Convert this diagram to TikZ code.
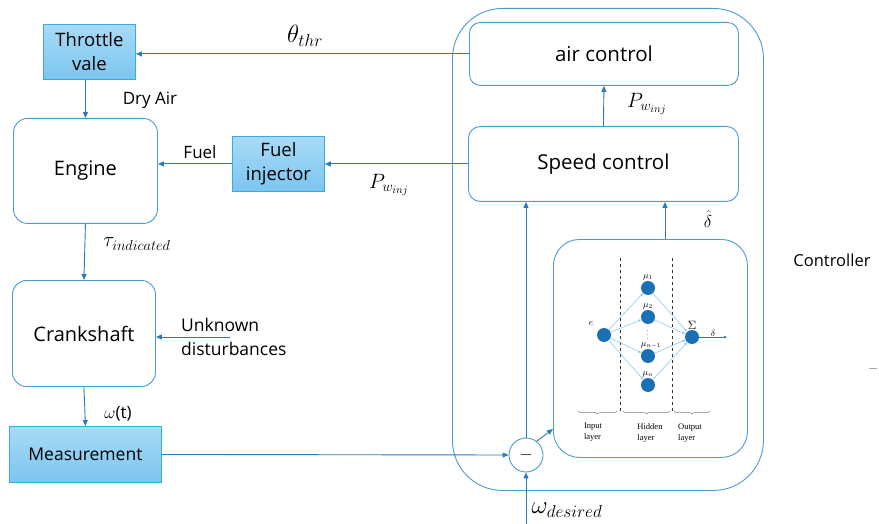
\documentclass[tikz,border=0pt]{standalone}
\usepackage{fontspec}
\setmainfont{Open Sans}
\newfontfamily\nnfont{Liberation Serif}
\usetikzlibrary{arrows.meta,decorations.pathreplacing}
\definecolor{edgec}{HTML}{4A9BD1}
\definecolor{arrc}{HTML}{2B7BBA}
\definecolor{nnode}{HTML}{1B6FB5}
\definecolor{nnedge}{HTML}{8CCBEB}
\definecolor{boxtop}{HTML}{A8DAF6}
\definecolor{boxbot}{HTML}{7CC5EE}
\definecolor{boxdraw}{HTML}{36ACDF}
\tikzset{
  blk/.style={draw=edgec, line width=0.9pt, rounded corners=14pt, inner sep=0pt, anchor=north west, align=center},
  bluebox/.style={draw=boxdraw, line width=0.9pt, top color=boxtop, bottom color=boxbot, inner sep=0pt, anchor=north west, align=center},
  flow/.style={draw=arrc, line width=0.9pt, -{Triangle[length=6pt,width=5pt]}},
  nnflow/.style={draw=nnedge, line width=0.6pt, -{Triangle[length=3pt,width=2.4pt]}},
  neuron/.style={circle, fill=nnode, minimum size=14pt, inner sep=0pt},
  lbl/.style={inner sep=0pt},
  nnlbl/.style={inner sep=0pt, font=\nnfont\fontsize{8.5}{10.5}\selectfont, align=left},
}
\begin{document}
\begin{tikzpicture}[x=1pt,y=-1pt]
\useasboundingbox (0,0) rectangle (879,524);
% left plant blocks
\node[bluebox, minimum width=92pt, minimum height=55pt, font=\fontsize{18.5}{24}\selectfont] (thr) at (43,24) {Throttle\\vale};
\node[blk, minimum width=144pt, minimum height=105pt, font=\fontsize{20}{24}\selectfont] (eng) at (13,118) {Engine};
\node[bluebox, minimum width=92pt, minimum height=55pt, font=\fontsize{18.5}{24}\selectfont] (fi) at (232,136) {Fuel\\injector};
\node[blk, minimum width=143pt, minimum height=106pt, font=\fontsize{20}{24}\selectfont] (cr) at (12,280) {Crankshaft};
\node[bluebox, minimum width=152pt, minimum height=56pt, font=\fontsize{17.5}{22}\selectfont] (me) at (9,426) {Measurement};
% controller
\node[blk, rounded corners=50pt, minimum width=311pt, minimum height=482pt] (ctl) at (452,8) {};
\node[blk, rounded corners=11pt, minimum width=269pt, minimum height=63pt, font=\fontsize{20.5}{24}\selectfont] (air) at (469,22) {air control};
\node[blk, rounded corners=12pt, minimum width=270pt, minimum height=75pt, font=\fontsize{20.5}{24}\selectfont] (sp) at (468,126) {Speed control};
\node[blk, rounded corners=26pt, minimum width=194pt, minimum height=218pt] (nn) at (553,239) {};
\node[circle, draw=edgec, line width=0.9pt, minimum size=34pt, inner sep=0pt, font=\fontsize{16}{18}\selectfont] (mn) at (526,455) {$-$};
\node[lbl, font=\fontsize{16.5}{20}\selectfont] (ctlt) at (832,260) {Controller};
\draw[gray!70, line width=1pt] (869,368) -- (877,368);
% coordinates
\coordinate (dist) at (230,337);
\coordinate (wd) at (526,524);
\coordinate (nnin) at (553,429);
\coordinate (nnout) at (665,239);
% connectors
\draw[flow] (air.west) -- (air.west -| thr.east);
\draw[flow] (thr.south -| eng.north) -- (eng.north);
\draw[flow] (sp.west) -- (sp.west -| fi.east);
\draw[flow] (fi.west) -- (fi.west -| eng.east);
\draw[flow] (eng.south) -- (cr.north);
\draw[flow] (dist) -- (dist -| cr.east);
\draw[flow] (cr.south) -- (me.north);
\draw[flow] (me.east) -- (mn.west);
\draw[flow] (wd) -- (mn.south);
\draw[flow] (mn.north) -- (mn.north |- sp.south);
\draw[flow] (mn.52) -- (nnin);
\draw[flow] (nnout) -- (nnout |- sp.south);
\draw[flow] (sp.north) -- (air.south);
% labels
\node[lbl, font=\fontsize{23}{26}\selectfont] (lth) at (305,36) {$\theta_{thr}$};
\node[lbl, font=\fontsize{17}{20}\selectfont] (lda) at (150,100) {Dry Air};
\node[lbl, font=\fontsize{17}{20}\selectfont] (lfu) at (200,152) {Fuel};
\node[lbl, font=\fontsize{21}{24}\selectfont] (lpw1) at (389,185) {$P_{w_{inj}}$};
\node[lbl, font=\fontsize{21}{24}\selectfont] (lpw2) at (647,104) {$P_{w_{inj}}$};
\node[lbl, font=\fontsize{22.5}{26}\selectfont] (ltau) at (137,244) {$\tau_{indicated}$};
\node[lbl, anchor=west, align=left, font=\fontsize{17.5}{24}\selectfont] (lud) at (181,337) {Unknown\\disturbances};
\node[lbl, font=\fontsize{17}{20}\selectfont] (lom) at (118,414) {$\omega$(t)};
\node[lbl, font=\fontsize{23}{26}\selectfont] (lwd) at (567,510) {$\omega_{desired}$};
\node[lbl, font=\fontsize{19}{22}\selectfont] (ldh) at (708,219) {$\hat{\delta}$};
% neural network
\draw[black!80, dashed, line width=0.5pt] (620.7,258) -- (620.7,412);
\draw[black!80, dashed, line width=0.5pt] (672.3,258) -- (672.3,412);
\node[neuron] (ne) at (604,335) {};
\node[neuron] (n1) at (648,288) {};
\node[neuron] (n2) at (648,317) {};
\node[neuron] (n3) at (648,356) {};
\node[neuron] (n4) at (648,385) {};
\node[neuron] (ns) at (692,337) {};
\coordinate (nd) at (727,337);
\foreach \n in {n1,n2,n3,n4} {
  \draw[nnflow] (ne) -- (\n);
  \draw[nnflow] (\n) -- (ns);
}
\draw[nnflow, draw=arrc] (ns) -- (nd);
\node[lbl, font=\fontsize{9}{10}\selectfont] at (591,324) {$e$};
\node[lbl, font=\fontsize{9}{10}\selectfont] at (648,277) {$\mu_1$};
\node[lbl, font=\fontsize{9}{10}\selectfont] at (648,306) {$\mu_2$};
\node[lbl, font=\fontsize{6}{7}\selectfont] at (648,332) {$\vdots$};
\node[lbl, font=\fontsize{9}{10}\selectfont] at (651,345) {$\mu_{n-1}$};
\node[lbl, font=\fontsize{9}{10}\selectfont] at (648,374) {$\mu_n$};
\node[lbl, font=\fontsize{13}{14}\selectfont] at (692,325) {$\Sigma$};
\node[lbl, font=\fontsize{9.5}{10}\selectfont] at (713,333) {$\delta$};
\draw[gray, line width=0.5pt, decorate, decoration={brace, mirror, amplitude=3pt}] (578,411) -- (617,411);
\draw[gray, line width=0.5pt, decorate, decoration={brace, mirror, amplitude=3pt}] (623,411) -- (670,411);
\draw[gray, line width=0.5pt, decorate, decoration={brace, mirror, amplitude=3pt}] (674,411) -- (710,411);
\node[nnlbl] at (593,432) {Input\\layer};
\node[nnlbl] at (650,433) {Hidden\\layer};
\node[nnlbl] at (690,433) {Output\\layer};
\end{tikzpicture}
\end{document}
